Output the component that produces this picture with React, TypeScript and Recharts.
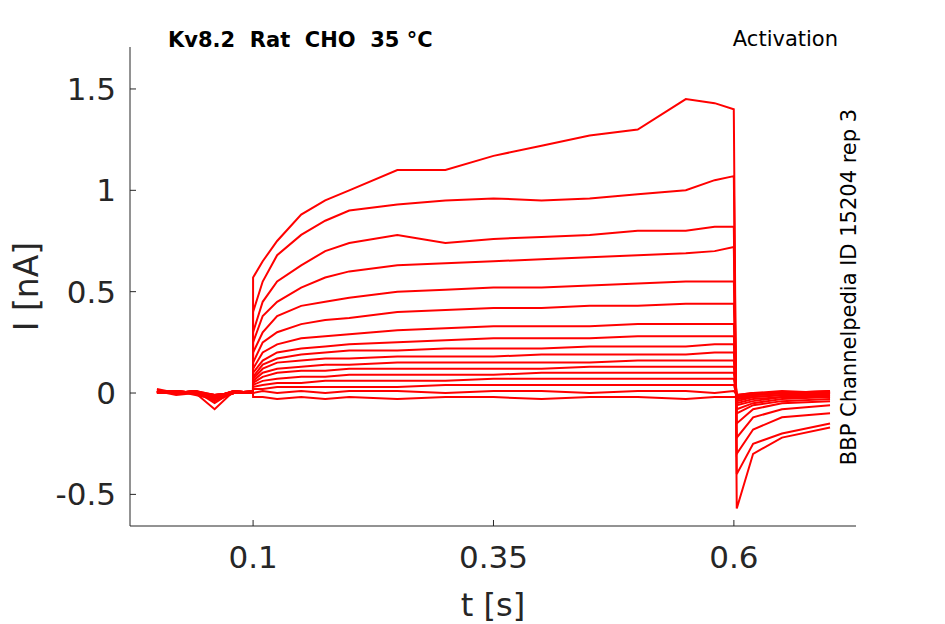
import React from "react";
import { LineChart, Line, XAxis, YAxis } from "recharts";

const times = [0,0.02,0.04,0.06,0.08,0.0999,0.1,0.11,0.125,0.15,0.175,0.2,0.25,0.3,0.35,0.4,0.45,0.5,0.55,0.58,0.5999,0.6,0.603,0.62,0.65,0.7];

const traces: number[][] = [
  [0.01,-0.01,0.0,-0.08,0.01,0.0,0.57,0.65,0.75,0.88,0.95,1.0,1.1,1.1,1.17,1.22,1.27,1.3,1.45,1.43,1.4,1.35,-0.57,-0.3,-0.22,-0.17],
  [0.02,0.0,0.01,-0.05,0.01,0.0,0.4,0.55,0.68,0.78,0.85,0.9,0.93,0.95,0.96,0.95,0.96,0.98,1.0,1.05,1.07,1.05,-0.4,-0.25,-0.2,-0.15],
  [0.0,0.01,-0.01,-0.03,0.0,0.0,0.3,0.45,0.55,0.63,0.7,0.74,0.78,0.74,0.76,0.77,0.78,0.8,0.8,0.82,0.82,0.8,-0.3,-0.18,-0.12,-0.1],
  [0.01,0.0,0.01,-0.04,0.0,0.01,0.25,0.38,0.45,0.52,0.57,0.6,0.63,0.64,0.65,0.66,0.67,0.68,0.69,0.7,0.72,0.7,-0.22,-0.12,-0.08,-0.06],
  [0.0,0.01,0.0,-0.02,0.01,0.0,0.2,0.3,0.38,0.43,0.45,0.47,0.5,0.51,0.52,0.52,0.53,0.54,0.55,0.55,0.55,0.55,-0.15,-0.08,-0.05,-0.04],
  [0.01,0.0,0.0,-0.03,0.0,0.0,0.15,0.25,0.3,0.34,0.36,0.37,0.4,0.41,0.42,0.42,0.43,0.43,0.44,0.44,0.44,0.44,-0.1,-0.06,-0.04,-0.03],
  [0.0,0.01,0.0,-0.02,0.0,0.01,0.12,0.2,0.24,0.27,0.28,0.29,0.31,0.32,0.33,0.33,0.33,0.34,0.34,0.34,0.34,0.34,-0.08,-0.05,-0.03,-0.02],
  [0.01,0.0,0.01,-0.01,0.0,0.0,0.1,0.16,0.2,0.22,0.23,0.24,0.25,0.26,0.27,0.27,0.27,0.28,0.28,0.28,0.28,0.28,-0.06,-0.04,-0.02,-0.02],
  [0.0,0.0,0.01,-0.02,0.01,0.0,0.08,0.14,0.17,0.19,0.2,0.21,0.21,0.22,0.22,0.22,0.23,0.23,0.23,0.24,0.24,0.24,-0.05,-0.03,-0.02,-0.01],
  [0.01,0.0,0.0,-0.01,0.0,0.0,0.07,0.12,0.15,0.16,0.17,0.17,0.18,0.18,0.18,0.19,0.19,0.19,0.19,0.2,0.2,0.2,-0.04,-0.02,-0.01,-0.01],
  [0.0,0.01,0.0,-0.02,0.0,0.01,0.06,0.1,0.12,0.13,0.14,0.14,0.15,0.15,0.15,0.15,0.15,0.16,0.16,0.16,0.16,0.16,-0.03,-0.02,-0.01,0.0],
  [0.01,0.0,0.01,-0.01,0.0,0.0,0.05,0.08,0.1,0.11,0.11,0.12,0.12,0.12,0.12,0.12,0.13,0.13,0.13,0.13,0.13,0.13,-0.03,-0.01,0.0,0.0],
  [0.0,0.0,0.0,-0.02,0.01,0.0,0.04,0.06,0.07,0.08,0.08,0.09,0.09,0.09,0.09,0.1,0.1,0.1,0.1,0.1,0.1,0.1,-0.02,-0.01,0.0,0.0],
  [0.01,0.01,0.0,-0.01,0.0,0.0,0.03,0.04,0.05,0.05,0.06,0.06,0.06,0.06,0.07,0.07,0.07,0.07,0.07,0.07,0.07,0.07,-0.02,0.0,0.0,0.01],
  [0.0,0.0,0.01,-0.02,0.0,0.01,0.02,0.02,0.03,0.03,0.03,0.03,0.03,0.04,0.04,0.04,0.04,0.04,0.04,0.04,0.04,0.04,-0.01,0.0,0.01,0.0],
  [0.01,0.0,0.0,-0.01,0.0,0.0,0.0,0.01,0.0,0.01,0.0,0.01,0.01,0.0,0.01,0.01,0.0,0.01,0.01,0.0,0.01,0.01,-0.01,0.0,0.0,0.01],
  [0.0,0.01,0.0,-0.02,0.01,0.0,-0.02,-0.02,-0.03,-0.02,-0.03,-0.02,-0.03,-0.02,-0.02,-0.03,-0.02,-0.02,-0.03,-0.02,-0.02,-0.02,-0.02,-0.01,0.0,0.0],
];

const xTicks = [0.1, 0.35, 0.6];
const yTicks = [-0.5, 0, 0.5, 1, 1.5];

const data = times.map((t, i) => {
  const row: Record<string, number> = { t };
  traces.forEach((tr, k) => { row["s" + k] = tr[i]; });
  return row;
});

const tickStyle = { fill: "#262626", fontSize: 31, fontFamily: "DejaVu Sans" };

export default function App() {
  return (
    <div style={{ position: "absolute", left: 0, top: 0, width: 945, height: 624, background: "#fff", fontFamily: "DejaVu Sans" }}>
      <LineChart width={945} height={624} data={data} margin={{ top: 47, right: 89, bottom: 0, left: 0 }}>
        <XAxis dataKey="t" type="number" domain={[-0.028, 0.727]} ticks={xTicks} tickFormatter={(v) => String(v)}
          tick={tickStyle} tickLine={{ stroke: "#262626" }} tickSize={-6} tickMargin={26}
          axisLine={{ stroke: "#262626" }} height={98}
          label={{ value: "t [s]", position: "insideBottom", offset: 8, style: { fill: "#262626", fontSize: 32 } }} />
        <YAxis type="number" domain={[-0.656, 1.707]} ticks={yTicks} tickFormatter={(v) => String(v)}
          tick={tickStyle} tickLine={{ stroke: "#262626" }} tickSize={-6} tickMargin={20} width={130}
          axisLine={{ stroke: "#262626" }} allowDataOverflow
          label={{ value: "I [nA]", angle: -90, position: "insideLeft", offset: 26, style: { fill: "#262626", fontSize: 33, textAnchor: "middle" } }} />
        {traces.map((_, k) => (
          <Line key={k} dataKey={"s" + k} stroke="#ff0000" strokeWidth={2} dot={false} isAnimationActive={false} type="linear" />
        ))}
        <text x={168} y={47} fontSize={21} fontWeight="bold" fill="#000" style={{ whiteSpace: "pre" }}>{"Kv8.2  Rat  CHO  35 °C"}</text>
        <text x={838} y={46} fontSize={21} textAnchor="end" fill="#000">Activation</text>
        <text x={856} y={287} fontSize={21} textAnchor="middle" fill="#000" transform="rotate(-90 856 287)">BBP Channelpedia ID 15204 rep 3</text>
      </LineChart>
    </div>
  );
}
